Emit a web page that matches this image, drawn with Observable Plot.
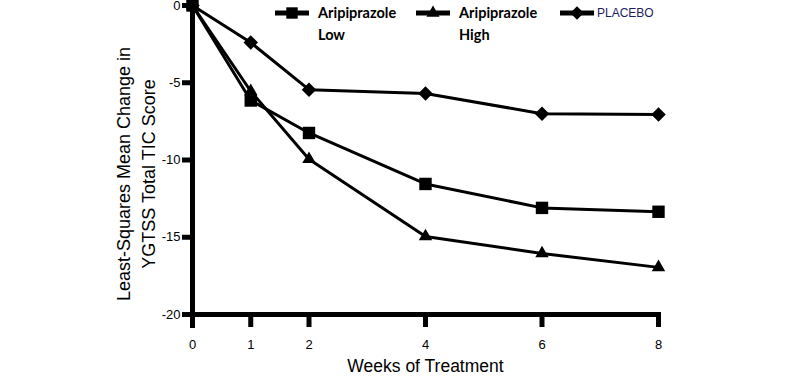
<!DOCTYPE html>
<html>
<head>
<meta charset="utf-8">
<script src="https://cdn.jsdelivr.net/npm/d3@7"></script>
<script src="https://cdn.jsdelivr.net/npm/@observablehq/plot@0.6"></script>
<style>
  html, body { margin: 0; padding: 0; background: #fff; }
  #wrap { position: relative; width: 785px; height: 388px; overflow: hidden; }
  .leg { position: absolute; display: flex; align-items: flex-start; }
  .leg svg { display: block; }
  .lt { font-family: Lato, "Open Sans", sans-serif; font-weight: 700; font-size: 14.5px; line-height: 22px; color: #000; }
  .lp { font-family: "Liberation Sans", Arial, sans-serif; font-size: 12px; color: #1b2160; line-height: 22px; }
  g[aria-label="y-axis tick"], g[aria-label="x-axis tick"] { stroke-width: 5px; }
</style>
</head>
<body>
<div id="wrap"></div>
<script>
const weeks = [0, 1, 2, 4, 6, 8];
const seriesNames = ["PLACEBO", "Aripiprazole High", "Aripiprazole Low"];
const placebo = [0, -2.4, -5.45, -5.7, -7.0, -7.05];
const aripHigh = [0, -5.55, -9.95, -14.95, -16.05, -16.95];
const aripLow = [0, -6.15, -8.25, -11.55, -13.1, -13.35];
const xTicks = [0, 1, 2, 4, 6, 8];
const yTicks = [0, -5, -10, -15, -20];

const diamondSym = {
  draw(ctx, size) {
    const h = Math.sqrt(size / 2);
    ctx.moveTo(0, -h); ctx.lineTo(h, 0); ctx.lineTo(0, h); ctx.lineTo(-h, 0); ctx.closePath();
  }
};
const markerStyle = {
  "PLACEBO": {symbol: diamondSym, r: 5.8},
  "Aripiprazole High": {symbol: "triangle", r: 5},
  "Aripiprazole Low": {symbol: "square", r: 7}
};

const valuesBySeries = {"PLACEBO": placebo, "Aripiprazole High": aripHigh, "Aripiprazole Low": aripLow};
const data = seriesNames.flatMap(s => weeks.map((w, i) => ({series: s, week: w, value: valuesBySeries[s][i]})));

const chart = Plot.plot({
  width: 785,
  height: 388,
  marginLeft: 192,
  marginRight: 127,
  marginTop: 5,
  marginBottom: 74,
  x: {domain: [0, 8]},
  y: {domain: [-20, 0]},
  style: {fontFamily: "'Liberation Sans', Arial, sans-serif", background: "#fff", overflow: "visible"},
  marks: [
    Plot.axisY({ticks: yTicks, tickSize: 10, tickPadding: 2, strokeWidth: 5, fontSize: 13, label: null, tickFormat: d => String(d)}),
    Plot.axisX({ticks: xTicks, tickSize: 13, tickPadding: 12, strokeWidth: 5, fontSize: 13, label: null}),
    Plot.ruleX([0], {stroke: "#000", strokeWidth: 5, insetTop: -6, insetBottom: -14}),
    Plot.ruleY([-20], {stroke: "#000", strokeWidth: 5, insetLeft: -7, insetRight: -3}),
    Plot.line(data, {x: "week", y: "value", z: "series", stroke: "#000", strokeWidth: 3}),
    ...seriesNames.map(s => Plot.dot(data.filter(d => d.series === s), {x: "week", y: "value", symbol: markerStyle[s].symbol, r: markerStyle[s].r, fill: "#000", stroke: "none"})),
    Plot.text(["Weeks of Treatment"], {frameAnchor: "bottom", dy: 57, fontSize: 17.5, fill: "#000"}),
    Plot.text(["Least-Squares Mean Change in\nYGTSS Total TIC Score"], {frameAnchor: "left", textAnchor: "middle", rotate: -90, dx: -58, dy: 14, fontSize: 18, lineHeight: 1.4, fill: "#000"})
  ]
});
const wrap = document.getElementById("wrap");
wrap.appendChild(chart);

// Legend overlay
const legendItems = [
  {sym: "square", lines: ["Aripiprazole", "Low"], left: 275, cls: "lt"},
  {sym: "triangle", lines: ["Aripiprazole", "High"], left: 416, cls: "lt"},
  {sym: "diamond", lines: ["PLACEBO"], left: 560, cls: "lp"}
];
const symPath = {
  square: d3.symbol(d3.symbolSquare, 130)(),
  triangle: d3.symbol(d3.symbolTriangle, 75)(),
  diamond: d3.symbol(diamondSym, 90)()
};
for (const it of legendItems) {
  const div = document.createElement("div");
  div.className = "leg";
  div.style.left = it.left + "px";
  div.style.top = "2px";
  const w = 34;
  div.innerHTML = `<svg width="${w}" height="22"><line x1="0" x2="${w}" y1="11" y2="11" stroke="#000" stroke-width="5"/><path transform="translate(${w/2},11)" d="${symPath[it.sym]}" fill="#000"/></svg>` +
    `<div class="${it.cls}" style="margin-left:${it.cls === 'lt' ? 9 : 3}px">${it.lines.join("<br>")}</div>`;
  wrap.appendChild(div);
}
</script>
</body>
</html>
